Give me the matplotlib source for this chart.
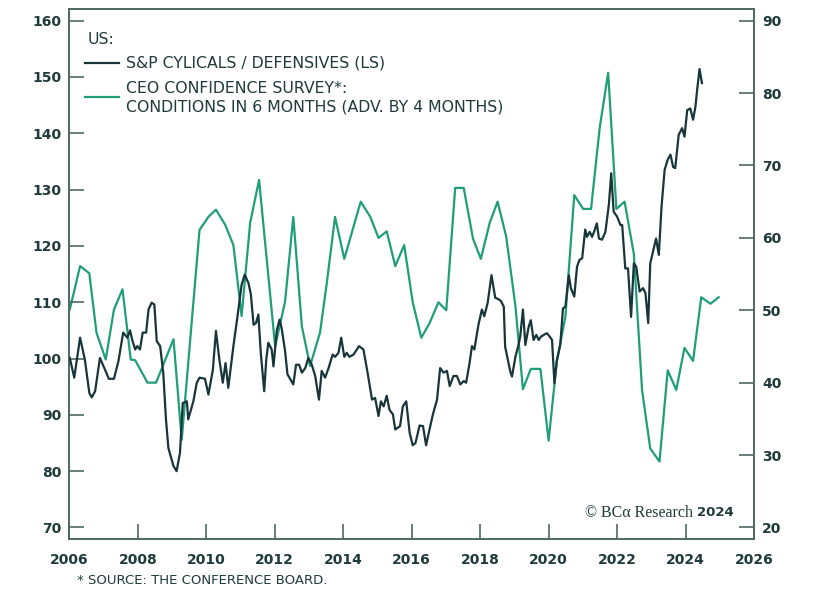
import matplotlib
matplotlib.use("Agg")
import matplotlib.pyplot as plt

# S&P cyclicals / defensives (left scale), decimal years
cyc_x = [2006.01, 2006.14, 2006.31, 2006.45, 2006.58, 2006.65, 2006.75, 2006.89, 2007.04, 2007.15,
         2007.30, 2007.43, 2007.57, 2007.69, 2007.77, 2007.83, 2007.92, 2007.98, 2008.06, 2008.14,
         2008.24, 2008.31, 2008.40, 2008.48, 2008.55, 2008.65, 2008.74, 2008.82, 2008.89, 2009.04,
         2009.13, 2009.23, 2009.31, 2009.43, 2009.47, 2009.62, 2009.72, 2009.80, 2009.96, 2010.06,
         2010.19, 2010.28, 2010.38, 2010.48, 2010.56, 2010.64, 2010.79, 2010.91, 2011.03, 2011.12,
         2011.23, 2011.30, 2011.38, 2011.45, 2011.52, 2011.59, 2011.69, 2011.75, 2011.81, 2011.91,
         2011.96, 2012.06, 2012.14, 2012.20, 2012.30, 2012.37, 2012.54, 2012.62, 2012.71, 2012.79,
         2012.89, 2012.98, 2013.08, 2013.18, 2013.29, 2013.37, 2013.47, 2013.57, 2013.69, 2013.76,
         2013.86, 2013.94, 2014.03, 2014.10, 2014.18, 2014.30, 2014.46, 2014.59, 2014.71, 2014.84,
         2014.93, 2015.03, 2015.10, 2015.18, 2015.27, 2015.35, 2015.45, 2015.52, 2015.66, 2015.74,
         2015.84, 2015.94, 2016.03, 2016.11, 2016.23, 2016.33, 2016.42, 2016.52, 2016.62, 2016.74,
         2016.83, 2016.93, 2017.03, 2017.11, 2017.22, 2017.32, 2017.42, 2017.52, 2017.59, 2017.69,
         2017.76, 2017.83, 2017.95, 2018.05, 2018.12, 2018.22, 2018.33, 2018.44, 2018.54, 2018.61,
         2018.69, 2018.73, 2018.88, 2018.93, 2019.03, 2019.12, 2019.17, 2019.25, 2019.32, 2019.42,
         2019.48, 2019.56, 2019.64, 2019.71, 2019.78, 2019.86, 2019.95, 2020.03, 2020.10, 2020.17,
         2020.24, 2020.34, 2020.42, 2020.49, 2020.59, 2020.65, 2020.75, 2020.83, 2020.90, 2020.98,
         2021.07, 2021.12, 2021.20, 2021.27, 2021.34, 2021.41, 2021.47, 2021.56, 2021.66, 2021.76,
         2021.83, 2021.90, 2022.00, 2022.10, 2022.15, 2022.24, 2022.32, 2022.41, 2022.49, 2022.56,
         2022.66, 2022.76, 2022.83, 2022.91, 2022.97, 2023.05, 2023.14, 2023.22, 2023.30, 2023.39,
         2023.48, 2023.56, 2023.64, 2023.70, 2023.80, 2023.90, 2023.97, 2024.05, 2024.14, 2024.22,
         2024.29, 2024.34, 2024.41, 2024.48]
cyc_y = [100.1, 96.6, 103.7, 99.8, 93.9, 93.1, 94.2, 100.1, 98.0, 96.4,
         96.4, 99.5, 104.6, 103.7, 105.0, 103.4, 101.6, 102.2, 101.6, 104.6,
         104.6, 108.7, 109.9, 109.6, 103.1, 102.2, 97.5, 89.2, 84.1, 80.9,
         80.0, 83.3, 92.1, 92.4, 89.2, 92.4, 95.7, 96.6, 96.4, 93.6,
         98.0, 104.9, 99.8, 95.7, 99.2, 94.8, 102.2, 107.5, 113.1, 114.9,
         113.4, 111.4, 106.0, 106.3, 107.8, 101.0, 94.2, 99.8, 102.8, 101.6,
         98.6, 105.1, 106.9, 105.4, 101.3, 97.2, 95.4, 98.9, 98.9, 97.5,
         98.3, 100.1, 98.9, 96.9, 92.7, 97.8, 96.6, 98.3, 100.7, 100.3,
         101.0, 103.7, 100.3, 101.0, 100.3, 100.7, 102.2, 101.6, 97.5, 92.7,
         93.0, 89.8, 92.4, 91.5, 93.4, 90.9, 90.1, 87.4, 88.0, 91.5,
         92.4, 86.8, 84.6, 85.0, 88.1, 88.0, 84.6, 87.4, 90.1, 92.7,
         98.3, 97.5, 97.8, 95.1, 96.9, 96.9, 95.4, 96.0, 95.7, 99.2,
         102.2, 101.6, 106.0, 108.7, 107.5, 109.9, 114.8, 110.8, 110.5, 110.2,
         109.2, 102.1, 97.7, 96.8, 100.3, 102.4, 103.9, 108.7, 102.4, 105.7,
         106.8, 103.3, 104.2, 103.3, 103.9, 104.2, 104.5, 103.9, 103.3, 95.6,
         99.7, 102.4, 108.9, 109.2, 114.8, 112.5, 111.0, 116.3, 117.5, 117.8,
         122.9, 121.6, 122.5, 121.6, 122.7, 124.0, 121.3, 121.1, 122.5, 127.3,
         132.9, 126.1, 125.2, 123.7, 123.7, 116.0, 116.0, 107.4, 116.9, 116.3,
         111.9, 112.5, 111.6, 106.3, 116.9, 119.0, 121.3, 118.4, 127.0, 133.5,
         135.3, 136.2, 134.0, 133.8, 139.7, 140.9, 139.4, 144.1, 144.4, 142.4,
         144.7, 147.7, 151.4, 148.9]

# CEO confidence: conditions in 6 months, advanced 4 months (right scale)
ceo_x = [2006.01, 2006.31, 2006.58, 2006.79, 2007.06, 2007.30, 2007.55, 2007.79, 2007.92, 2008.28,
         2008.53, 2009.04, 2009.28, 2009.80, 2010.06, 2010.28, 2010.55, 2010.79, 2011.03, 2011.28,
         2011.54, 2012.01, 2012.30, 2012.54, 2012.79, 2013.03, 2013.32, 2013.52, 2013.76, 2014.03,
         2014.51, 2014.79, 2015.03, 2015.27, 2015.52, 2015.78, 2016.03, 2016.28, 2016.52, 2016.78,
         2017.01, 2017.27, 2017.52, 2017.79, 2018.02, 2018.28, 2018.51, 2018.76, 2019.03, 2019.25,
         2019.48, 2019.76, 2020.00, 2020.24, 2020.49, 2020.75, 2021.01, 2021.24, 2021.49, 2021.74,
         2021.98, 2022.22, 2022.49, 2022.73, 2022.97, 2023.24, 2023.48, 2023.73, 2023.97, 2024.22,
         2024.46, 2024.73, 2024.97]
ceo_y = [50.1, 56.1, 55.1, 46.9, 43.2, 50.1, 52.9, 43.2, 43.1, 40.0,
         40.0, 46.0, 32.1, 61.1, 62.9, 63.9, 61.8, 59.0, 49.2, 62.1,
         68.0, 45.0, 51.2, 62.9, 47.8, 42.3, 46.9, 53.8, 62.9, 57.1,
         65.0, 62.9, 60.0, 60.9, 56.1, 59.0, 51.1, 46.2, 48.2, 51.1,
         50.0, 66.9, 66.9, 59.9, 57.1, 62.1, 65.0, 60.2, 50.6, 39.1,
         41.9, 41.9, 32.0, 42.9, 49.1, 65.9, 64.0, 64.0, 75.1, 82.8,
         64.0, 65.0, 57.8, 39.0, 30.9, 29.1, 41.7, 39.0, 44.8, 43.0,
         51.8, 50.9, 51.8]

left_ticks = [70, 80, 90, 100, 110, 120, 130, 140, 150, 160]
right_ticks = [20, 30, 40, 50, 60, 70, 80, 90]
year_ticks = [2006, 2008, 2010, 2012, 2014, 2016, 2018, 2020, 2022, 2024, 2026]

dark = "#18353a"
green = "#1f9e78"
txt = "#1e3a3a"
spine = "#4f6763"

plt.rcParams["font.family"] = ["DejaVu Sans"]

fig = plt.figure(figsize=(8.24, 5.9), dpi=100)
ax = fig.add_axes([0.0843, 0.0859, 0.8307, 0.8983])
ax2 = ax.twinx()

ax.plot(cyc_x, cyc_y, color=dark, lw=1.6, zorder=3)
ax2.plot(ceo_x, ceo_y, color=green, lw=1.6, zorder=2)
ax.set_zorder(ax2.get_zorder() + 1)
ax.patch.set_visible(False)

ax.set_xlim(2006, 2026)
ax.set_ylim(67.9, 162.0)
ax2.set_ylim(18.36, 91.57)
ax.set_xticks(year_ticks)
ax.set_yticks(left_ticks)
ax2.set_yticks(right_ticks)

for a in (ax, ax2):
    for s in a.spines.values():
        s.set_color(spine)
        s.set_linewidth(1.2)
ax.tick_params(axis="both", direction="in", length=11, width=1.2, color=spine,
               labelcolor=txt, labelsize=10, pad=6)
ax.tick_params(axis="x", pad=10)
ax2.tick_params(axis="y", direction="in", length=11, width=1.2, color=spine,
                labelcolor=txt, labelsize=10, pad=6)
for lab in ax.get_xticklabels() + ax.get_yticklabels() + ax2.get_yticklabels():
    lab.set_fontweight("bold")

# legend drawn by hand
fs = 11.3
fig.text(88 / 824, 1 - 40 / 590, "US:", color=txt, fontsize=fs, va="center")
fig.add_artist(plt.Line2D([85 / 824, 119 / 824], [1 - 62.7 / 590] * 2, color=dark, lw=1.6))
fig.text(126 / 824, 1 - 62.7 / 590, "S&P CYLICALS / DEFENSIVES (LS)", color=txt,
         fontsize=fs, va="center")
fig.add_artist(plt.Line2D([85 / 824, 119 / 824], [1 - 96.7 / 590] * 2, color=green, lw=1.6))
fig.text(126 / 824, 1 - 88.3 / 590, "CEO CONFIDENCE SURVEY*:", color=txt,
         fontsize=fs, va="center")
fig.text(126 / 824, 1 - 106.7 / 590, "CONDITIONS IN 6 MONTHS (ADV. BY 4 MONTHS)", color=txt,
         fontsize=fs, va="center")

fig.text(693 / 824, 1 - 513 / 590, "© BCα Research", color=txt, fontsize=11.5,
         family=["Liberation Serif", "DejaVu Serif"], ha="right", va="center")
fig.text(697 / 824, 1 - 513 / 590, "2024", color=txt, fontsize=9.5, fontweight="bold",
         ha="left", va="center")

fig.text(77 / 824, 1 - 580 / 590, "* SOURCE: THE CONFERENCE BOARD.", color=txt,
         fontsize=9.5, va="center")

fig.savefig("out.png", dpi=100)
